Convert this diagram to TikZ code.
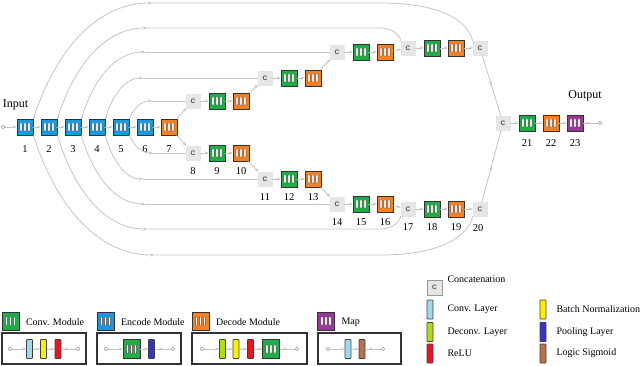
\documentclass[tikz,border=0pt]{standalone}
\usepackage{fontspec}
\setmainfont{Liberation Serif}
\setsansfont{Liberation Sans}
\usetikzlibrary{arrows.meta,decorations.markings}

\definecolor{convgreen}{RGB}{34,172,72}
\definecolor{encblue}{RGB}{24,152,222}
\definecolor{decorange}{RGB}{245,128,36}
\definecolor{mappurple}{RGB}{152,56,152}
\definecolor{linegray}{RGB}{196,196,196}
\definecolor{catgray}{RGB}{230,230,230}
\definecolor{layblue}{RGB}{160,216,240}
\definecolor{layyg}{RGB}{172,222,24}
\definecolor{layyellow}{RGB}{255,240,0}
\definecolor{layred}{RGB}{232,22,32}
\definecolor{laypool}{RGB}{52,52,200}
\definecolor{laybrown}{RGB}{182,112,82}

\tikzset{
  module/.style={draw=black!80, line width=0.7pt, fill=#1, minimum width=16pt, minimum height=16pt, inner sep=0pt,
    path picture={\foreach \dx in {-4,0,4}
      \draw[draw=black!75, fill=white, line width=0.4pt, rounded corners=0.3pt] ([xshift=\dx pt]path picture bounding box.center) ++(-1.1pt,-4pt) rectangle ++(2.2pt,8pt);}},
  catnode/.style={draw=black!10, fill=catgray, minimum size=14pt, inner sep=0pt, text=black!70, font=\sffamily\bfseries\fontsize{6.5}{7}\selectfont},
  laybar/.style={draw=black!75, fill=#1, line width=0.6pt, rounded corners=0.6pt, minimum width=6pt, minimum height=19pt, inner sep=0pt},
  port/.style={circle, draw=gray!80, fill=white, line width=0.5pt, minimum size=3.5pt, inner sep=0pt},
  link/.style={linegray, line width=0.8pt, -{Stealth[length=4pt,width=3.2pt]}},
  skipline/.style={linegray, line width=0.8pt},
  midarrow/.style={postaction={decorate}, decoration={markings, mark=at position #1 with {\arrow{Stealth[length=4pt,width=3.2pt]}}}},
  midarrow/.default=0.5,
  legbox/.style={draw=black!80, line width=1.1pt},
  lbl/.style={font=\fontsize{10}{12}\selectfont}
}

\begin{document}
\begin{tikzpicture}[x=1pt, y=-1pt, every node/.style={font=\fontsize{10.5}{12}\selectfont}]
	\useasboundingbox (0,0) rectangle (640,366);
	\node[font=\fontsize{12}{14}\selectfont] (tin) at (15.5,105) {Input};
	\node[font=\fontsize{12}{14}\selectfont] (tout) at (585,96) {Output};
	\node[port] (in) at (3,127) {};
	\foreach \i in {1,...,6} {
		\node[module=encblue] (e\i) at ({1+24*\i},127) {};
		\node at ({1+24*\i},149) {\i};
	}
	\node[module=decorange] (d7) at (169,127) {};
	\node at (169,149) {7};
	\draw[link] (in) -- (e1);
	\foreach \i [count=\j from 2] in {1,...,5} \draw[link] (e\i) -- (e\j);
	\draw[link] (e6) -- (d7);
	
	\foreach \n/\x/\y in {1/193/101, 2/265/78, 3/337/52, 4/408/48} {
		\node[catnode] (cu\n) at (\x,\y) {C};
		\node[module=convgreen] (gu\n) at ({\x+24},\y) {};
		\node[module=decorange] (ou\n) at ({\x+48},\y) {};
		\draw[link] (cu\n) -- (gu\n);
		\draw[link] (gu\n) -- (ou\n);
	}
	\foreach \n/\x/\y/\na in {1/193/153/8, 2/265/179/11, 3/337/204/14, 4/408/209/17} {
		\pgfmathtruncatemacro{\nb}{\na+1}
		\pgfmathtruncatemacro{\nc}{\na+2}
		\node[catnode] (cl\n) at (\x,\y) {C};
		\node[module=convgreen] (gl\n) at ({\x+24},\y) {};
		\node[module=decorange] (ol\n) at ({\x+48},\y) {};
		\draw[link] (cl\n) -- (gl\n);
		\draw[link] (gl\n) -- (ol\n);
		\node at (\x,{\y+18}) {\na};
		\node at ({\x+24},{\y+18}) {\nb};
		\node at ({\x+48},{\y+18}) {\nc};
	}
	\node[catnode] (cu5) at (480,48) {C};
	\node[catnode] (cl5) at (480,209) {C};
	\node at (478,228) {20};
	\draw[link] (d7) -- (cu1);
	\draw[link] (d7) -- (cl1);
	\foreach \n [count=\m from 2] in {1,...,4} {
		\draw[link] (ou\n) -- (cu\m);
		\draw[link] (ol\n) -- (cl\m);
	}
	
	\foreach \i/\yl/\xe in {1/3/152, 2/28/147, 3/52/145, 4/78/143, 5/101/152} {
		\pgfmathsetmacro{\dx}{\xe-9-24*\i}
		\coordinate (su\i) at (\xe,\yl);
		\draw[link] (e\i.north east) .. controls +({0.2*\dx},{0.62*(\yl-119)}) and +({-0.45*\dx},0) .. (su\i);
	}
	\foreach \i/\yl/\xe in {1/255/154, 2/229/147, 3/204/145, 4/179/143, 5/153/153} {
		\pgfmathsetmacro{\dx}{\xe-9-24*\i}
		\coordinate (sl\i) at (\xe,\yl);
		\draw[link] (e\i.south east) .. controls +({0.2*\dx},{0.62*(\yl-135)}) and +({-0.45*\dx},0) .. (sl\i);
	}
	\foreach \i/\n in {5/1, 4/2, 3/3} {
		\draw[skipline] (su\i) -- (cu\n);
		\draw[skipline] (sl\i) -- (cl\n);
	}
	\draw[skipline] (su2) -- (380,28) .. controls (392,28) and (400,35) .. (cu4.north west);
	\draw[skipline] (su1) -- (380,3) .. controls (428,3) and (465,14) .. (cu5.north west);
	\draw[skipline] (sl2) -- (380,229) .. controls (392,229) and (400,222) .. (cl4.south west);
	\draw[skipline] (sl1) -- (380,255) .. controls (430,255) and (466,242) .. (cl5.south west);
	
	\node[catnode] (cf) at (503,123) {C};
	\node[module=convgreen] (g21) at (527,123) {};
	\node[module=decorange] (o22) at (551,123) {};
	\node[module=mappurple] (m23) at (575,123) {};
	\node[port] (out) at (600,123) {};
	\node at (527,143) {21};
	\node at (551,143) {22};
	\node at (575,143) {23};
	\draw[skipline, midarrow] (cu5) -- (cf);
	\draw[skipline, midarrow] (cl5) -- (cf);
	\draw[link] (cf) -- (g21);
	\draw[link] (g21) -- (o22);
	\draw[link] (o22) -- (m23);
	\draw[skipline, midarrow] (m23) -- (out);
	
	\foreach \col/\x/\txt in {convgreen/10.5/Conv. Module, encblue/105.5/Encode Module, decorange/200.5/Decode Module, mappurple/326/Map} {
		\node[module=\col, minimum width=17pt, minimum height=18pt] (k\col) at (\x,321) {};
		\node[lbl, anchor=west] at ({\x+12},322) {\txt};
	}
	\draw[legbox] (2,333) rectangle (86,364);
	\draw[legbox] (97,333) rectangle (181,364);
	\draw[legbox] (192,333) rectangle (307,364);
	\draw[legbox] (318,333) rectangle (401,364);
	
	\node[port] (ca) at (10,349) {};
	\node[laybar=layblue] (cb) at (29.5,349) {};
	\node[laybar=layyellow] (cc) at (43.5,349) {};
	\node[laybar=layred] (cd) at (58,349) {};
	\node[port] (ce) at (78,349) {};
	\draw[link] (ca) -- (cb);
	\draw[link] (cb) -- (cc);
	\draw[link] (cc) -- (cd);
	\draw[skipline, midarrow] (cd) -- (ce);
	
	\node[port] (ea) at (106,349) {};
	\node[module=convgreen, minimum width=17pt, minimum height=19pt] (eb) at (131.5,349) {};
	\node[laybar=laypool] (ec) at (151.5,349) {};
	\node[port] (ed) at (173,349) {};
	\draw[link] (ea) -- (eb);
	\draw[link] (eb) -- (ec);
	\draw[skipline, midarrow] (ec) -- (ed);
	
	\node[port] (da) at (202,349) {};
	\node[laybar=layyg] (db) at (222.5,349) {};
	\node[laybar=layyellow] (dc) at (236,349) {};
	\node[laybar=layred] (dd) at (250.5,349) {};
	\node[module=convgreen, minimum width=17pt, minimum height=19pt] (de) at (271,349) {};
	\node[port] (df) at (297,349) {};
	\draw[link] (da) -- (db);
	\draw[link] (db) -- (dc);
	\draw[link] (dc) -- (dd);
	\draw[link] (dd) -- (de);
	\draw[skipline, midarrow] (de) -- (df);
	
	\node[port] (ma) at (328,349) {};
	\node[laybar=layblue] (mb) at (348,349) {};
	\node[laybar=laybrown] (mc) at (362,349) {};
	\node[port] (md) at (383,349) {};
	\draw[link] (ma) -- (mb);
	\draw[link] (mb) -- (mc);
	\draw[skipline, midarrow] (mc) -- (md);
	
	\node[catnode, draw=black!40, minimum size=15pt] (kcat) at (434.5,287.5) {C};
	\node[lbl, anchor=west] at (444,279) {Concatenation};
	\foreach \col/\y/\txt in {layblue/309.5/Conv. Layer, layyg/332/Deconv. Layer, layred/353.5/ReLU} {
		\node[laybar=\col] at (430,\y) {};
		\node[lbl, anchor=west] at (444,\y) {\txt};
	}
	\foreach \col/\y/\txt in {layyellow/309.5/Batch Normalization, laypool/332/Pooling Layer, laybrown/353.5/Logic Sigmoid} {
		\node[laybar=\col] at (543,\y) {};
		\node[lbl, anchor=west] at (553,\y) {\txt};
	}
\end{tikzpicture}
\end{document}
